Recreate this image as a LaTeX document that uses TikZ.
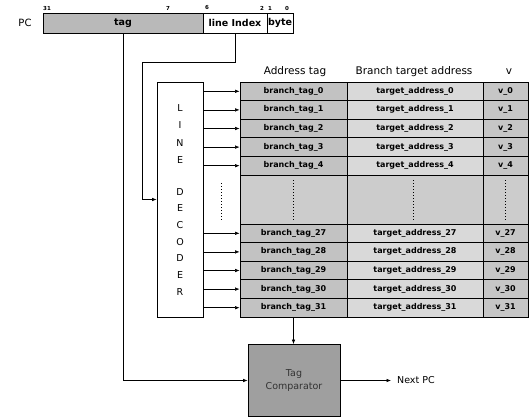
\documentclass[tikz,border=0pt]{standalone}
\usepackage{fontspec}
\setmainfont{DejaVu Sans}
\usetikzlibrary{arrows.meta}
\tikzset{
  conn/.style={line width=0.6pt, -{Latex[length=4.5pt,width=3.5pt]}},
  wire/.style={line width=0.6pt},
  field/.style={draw, line width=0.7pt, inner sep=0pt, font=\bfseries\fontsize{9.5}{10}\selectfont, minimum height=20pt},
  bitlbl/.style={inner sep=0pt, font=\bfseries\fontsize{5.5}{6}\selectfont},
  cell/.style={draw, line width=0.8pt, inner sep=0pt, minimum height=18.6pt, font=\bfseries\fontsize{8}{9}\selectfont},
  tagcol/.style={cell, fill=gray!48, minimum width=107pt},
  adrcol/.style={cell, fill=gray!30, minimum width=136pt},
  vcol/.style={cell, fill=gray!45, minimum width=45pt},
  hdr/.style={inner sep=0pt, font=\fontsize{10.5}{12}\selectfont},
  declet/.style={inner sep=0pt, font=\fontsize{9.5}{10}\selectfont},
  dotcol/.style={draw, line width=0.8pt, fill=gray!40, minimum height=49pt, inner sep=0pt},
}
\begin{document}
\begin{tikzpicture}[x=1pt,y=-1pt]
\useasboundingbox (0,0) rectangle (532,417);

% PC register
\node[inner sep=0pt, font=\fontsize{10}{12}\selectfont] (pc) at (25,23) {PC};
\node[field, fill=gray!55, minimum width=160pt] (tag) at (123,23) {tag};
\node[field, fill=white, minimum width=64pt] (li) at (235,23) {line Index};
\node[field, fill=white, minimum width=26pt] (byte) at (280,23) {byte};
\node[bitlbl] (b31) at (47,8) {31};
\node[bitlbl] (b7) at (168,8) {7};
\node[bitlbl] (b6) at (207,8) {6};
\node[bitlbl] (b2) at (262,8) {2};
\node[bitlbl] (b1) at (270,8) {1};
\node[bitlbl] (b0) at (287,8) {0};

% headers
\node[hdr] (h1) at (295,72) {Address tag};
\node[hdr] (h2) at (414,72) {Branch target address};
\node[hdr] (h3) at (509,72) {v};

% table top rows
\foreach \i in {0,...,4} {
  \pgfmathsetmacro{\yy}{82+18.6*(\i+0.5)}
  \node[tagcol] (t\i) at (293.5,\yy) {branch\_tag\_\i};
  \node[adrcol] (a\i) at (415,\yy) {target\_address\_\i};
  \node[vcol] (v\i) at (505.5,\yy) {v\_\i};
}
% dotted band
\node[dotcol, minimum width=107pt] (d1) at (293.5,199.5) {};
\node[dotcol, minimum width=136pt] (d2) at (415,199.5) {};
\node[dotcol, minimum width=45pt] (d3) at (505.5,199.5) {};
\foreach \c in {293.5,413,505.5} {
  \draw[dotted, line width=1pt] (\c,180) -- (\c,221);
}
% table bottom rows
\foreach \i in {27,...,31} {
  \pgfmathsetmacro{\yy}{224+18.6*(\i-27+0.5)}
  \node[tagcol] (t\i) at (293.5,\yy) {branch\_tag\_\i};
  \node[adrcol] (a\i) at (415,\yy) {target\_address\_\i};
  \node[vcol] (v\i) at (505.5,\yy) {v\_\i};
}

% decoder
\node[draw, line width=0.7pt, minimum width=46pt, minimum height=235pt, inner sep=0pt] (dec) at (180,199.5) {};
\node[declet] (l1) at (180,108) {L};
\node[declet] (l2) at (180,125) {I};
\node[declet] (l3) at (180,143) {N};
\node[declet] (l4) at (180,160) {E};
\node[declet] (l5) at (180,192) {D};
\node[declet] (l6) at (180,208) {E};
\node[declet] (l7) at (180,225) {C};
\node[declet] (l8) at (180,242) {O};
\node[declet] (l9) at (180,258) {D};
\node[declet] (l10) at (180,275) {E};
\node[declet] (l11) at (180,292) {R};
\draw[dotted, line width=1pt] (221,183) -- (221,220);

% decoder outputs
\foreach \i in {0,...,4,27,28,29,30,31} {
  \draw[conn] (dec.east |- t\i.west) -- (t\i.west);
}

% comparator
\node[draw, line width=0.7pt, fill=gray!75, minimum width=92pt, minimum height=72pt, inner sep=0pt,
      align=center, font=\fontsize{9.5}{13}\selectfont, text=black!80] (cmp) at (294,380.5) {Tag\\Comparator};
\node[anchor=west, inner sep=0pt, font=\fontsize{9.5}{11}\selectfont] (npc) at (397,380.5) {Next PC};

% connectors
\coordinate (k1) at (235,62);
\coordinate (k2) at (142,62);
\draw[conn] (li.south) -- (k1) -- (k2) -- (k2 |- dec.west) -- (dec.west);
\draw[conn] (tag.south) -- (tag.south |- cmp.west) -- (cmp.west);
\draw[conn] (t31.south) -- (t31.south |- cmp.north);
\draw[conn, shorten >=6pt] (cmp.east) -- (npc.west);
\end{tikzpicture}
\end{document}
